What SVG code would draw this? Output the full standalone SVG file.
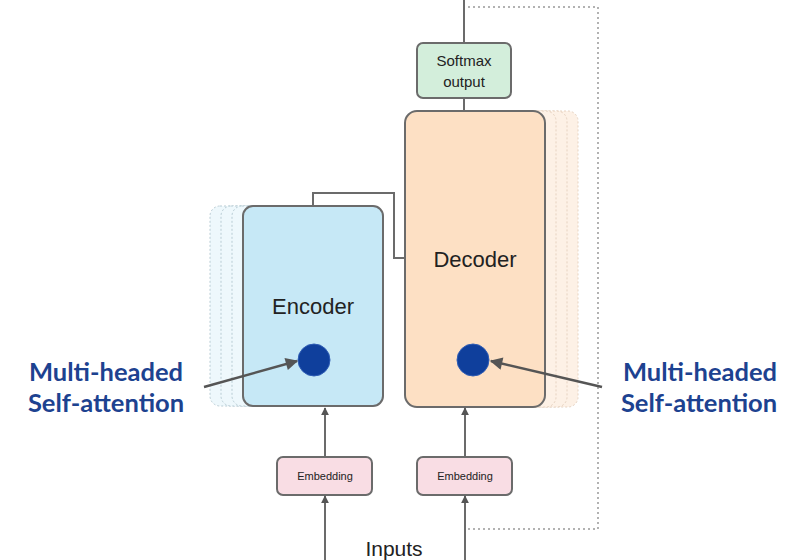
<svg xmlns="http://www.w3.org/2000/svg" width="797" height="560" viewBox="0 0 797 560">
<style>
.ghostE{fill:#eef8fc;stroke:#b8ccd4;stroke-width:1;stroke-dasharray:2 2}
.ghostD{fill:#fdf1e6;stroke:#e6d2c0;stroke-width:1;stroke-dasharray:2 2}
.box{stroke:#6b6b6b;stroke-width:2}
.lbl{font-family:"Liberation Sans",Arial,sans-serif;fill:#222}
.ma{font-family:Lato,"Open Sans",sans-serif;font-weight:bold;font-size:25.5px;fill:#1d4290;text-anchor:middle}
.conn{fill:none;stroke:#6b6b6b;stroke-width:2}
.dot{fill:#0f3f9c;stroke:#2f5db5;stroke-width:1}
</style>
<defs>
<marker id="ah" viewBox="0 0 10 10" refX="9" refY="5" markerWidth="5.5" markerHeight="5" orient="auto">
<path d="M0,0 L10,5 L0,10 z" fill="#555"/>
</marker>
<marker id="ahs" viewBox="0 0 10 10" refX="9" refY="5" markerWidth="4" markerHeight="4" orient="auto">
<path d="M0,0 L10,5 L0,10 z" fill="#555"/>
</marker>
</defs>
<rect width="797" height="560" fill="#fff"/>
<g id="encoder">
<rect class="ghostE" x="210" y="206" width="140" height="200" rx="10"/>
<rect class="ghostE" x="221" y="206" width="140" height="200" rx="10"/>
<rect class="ghostE" x="232" y="206" width="140" height="200" rx="10"/>
<rect class="box" x="243" y="206" width="140" height="200" rx="10" fill="#c6e8f6"/>
<text class="lbl" x="313" y="314" font-size="22" text-anchor="middle">Encoder</text>
<circle class="dot" cx="314" cy="360" r="16"/>
</g>
<g id="decoder">
<rect class="ghostD" x="438" y="111" width="140" height="296" rx="10"/>
<rect class="ghostD" x="427" y="111" width="140" height="296" rx="10"/>
<rect class="ghostD" x="416" y="111" width="140" height="296" rx="10"/>
<rect class="box" x="405" y="111" width="140" height="296" rx="12" fill="#fde0c4"/>
<text class="lbl" x="475" y="267" font-size="22" text-anchor="middle">Decoder</text>
<circle class="dot" cx="473" cy="360" r="16"/>
</g>
<g id="softmax">
<rect class="box" x="417" y="43" width="94" height="55" rx="6" fill="#d3eedb"/>
<text class="lbl" x="464" y="66" font-size="15" text-anchor="middle">Softmax</text>
<text class="lbl" x="464" y="87" font-size="15" text-anchor="middle">output</text>
</g>
<g id="embedding-enc">
<rect class="box" x="277" y="457" width="95" height="38" rx="6" fill="#f9dde4"/>
<text class="lbl" x="325" y="480" font-size="11" text-anchor="middle" fill="#444">Embedding</text>
</g>
<g id="embedding-dec">
<rect class="box" x="417" y="457" width="95" height="38" rx="6" fill="#f9dde4"/>
<text class="lbl" x="465" y="480" font-size="11" text-anchor="middle" fill="#444">Embedding</text>
</g>
<g id="inputs">
<text class="lbl" x="394" y="556" font-size="21" text-anchor="middle">Inputs</text>
</g>
<g id="label-left">
<text class="ma" x="106" y="381">Multi-headed</text>
<text class="ma" x="106" y="412">Self-attention</text>
</g>
<g id="label-right">
<text class="ma" x="700" y="381">Multi-headed</text>
<text class="ma" x="699" y="412">Self-attention</text>
</g>
<g id="connectors">
<path class="conn" d="M464,0 V43"/>
<path class="conn" d="M464,98 V111"/>
<path d="M468,7 H598 V529 H468" fill="none" stroke="#999" stroke-width="1.5" stroke-dasharray="2 3"/>
<path class="conn" d="M313,206 V193 H394 V258 H405"/>
<path class="conn" d="M325,457 V408" marker-end="url(#ahs)"/>
<path class="conn" d="M465,457 V408" marker-end="url(#ahs)"/>
<path class="conn" d="M325,560 V496" marker-end="url(#ahs)"/>
<path class="conn" d="M465,560 V496" marker-end="url(#ahs)"/>
<path d="M204,387 L297,361" fill="none" stroke="#555" stroke-width="2.5" marker-end="url(#ah)"/>
<path d="M602,387 L491,361" fill="none" stroke="#555" stroke-width="2.5" marker-end="url(#ah)"/>
</g>
</svg>
